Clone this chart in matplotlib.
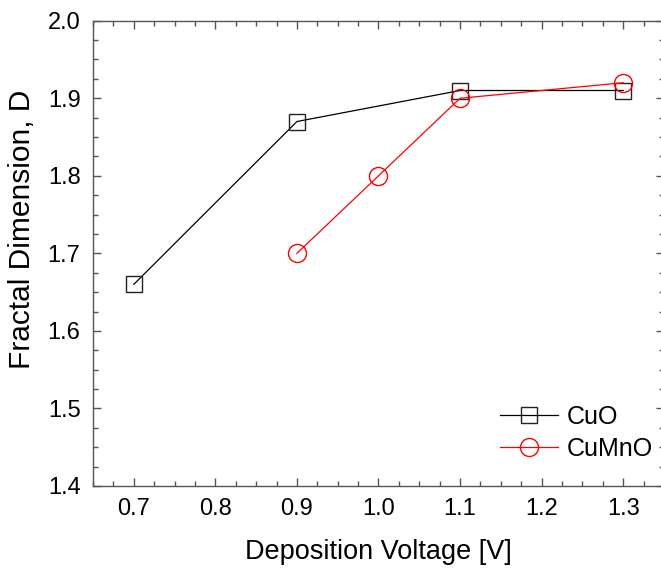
import matplotlib
matplotlib.use("Agg")
import matplotlib.pyplot as plt
from matplotlib.ticker import MultipleLocator

# data
volt_cuo = [0.7, 0.9, 1.1, 1.3]
fd_cuo = [1.66, 1.87, 1.91, 1.91]
volt_cumno = [0.9, 1.0, 1.1, 1.3]
fd_cumno = [1.70, 1.80, 1.90, 1.92]

plt.rcParams['font.family'] = ['Liberation Sans', 'DejaVu Sans']

fig = plt.figure(figsize=(6.61, 5.69), dpi=100)
ax = fig.add_axes([0.1407, 0.1459, 0.8638, 0.8177])

ax.plot(volt_cuo, fd_cuo, color='black', lw=0.9, marker='s', ms=11.5,
        mfc='none', mec='#222222', mew=1.0, label='CuO')
ax.plot(volt_cumno, fd_cumno, color='red', lw=0.9, marker='o', ms=13,
        mfc='none', mec='red', mew=1.0, label='CuMnO')

ax.set_xlim(0.65, 1.35)
ax.set_ylim(1.4, 2.0)
ax.xaxis.set_major_locator(MultipleLocator(0.1))
ax.xaxis.set_minor_locator(MultipleLocator(0.025))
ax.yaxis.set_major_locator(MultipleLocator(0.1))
ax.yaxis.set_minor_locator(MultipleLocator(0.025))
ax.xaxis.set_major_formatter(plt.FormatStrFormatter('%.1f'))
ax.yaxis.set_major_formatter(plt.FormatStrFormatter('%.1f'))

for s in ax.spines.values():
    s.set_color('#555555')
    s.set_linewidth(1.0)
ax.tick_params(which='both', direction='in', top=True, right=True,
               color='#555555', width=1.0)
ax.tick_params(which='major', length=6, labelsize=17, pad=9)
ax.tick_params(which='minor', length=3.5)

ax.set_xlabel('Deposition Voltage [V]', fontsize=19.5, labelpad=13)
ax.set_ylabel('Fractal Dimension, D', fontsize=21.5)
ax.yaxis.set_label_coords(-0.1, 0.552)

ax.legend(loc='center left', bbox_to_anchor=(0.713, 0.114), frameon=False,
          fontsize=18, handlelength=2.3, handletextpad=0.36,
          labelspacing=0.3, borderpad=0, borderaxespad=0)

fig.savefig('out.png', dpi=100)
